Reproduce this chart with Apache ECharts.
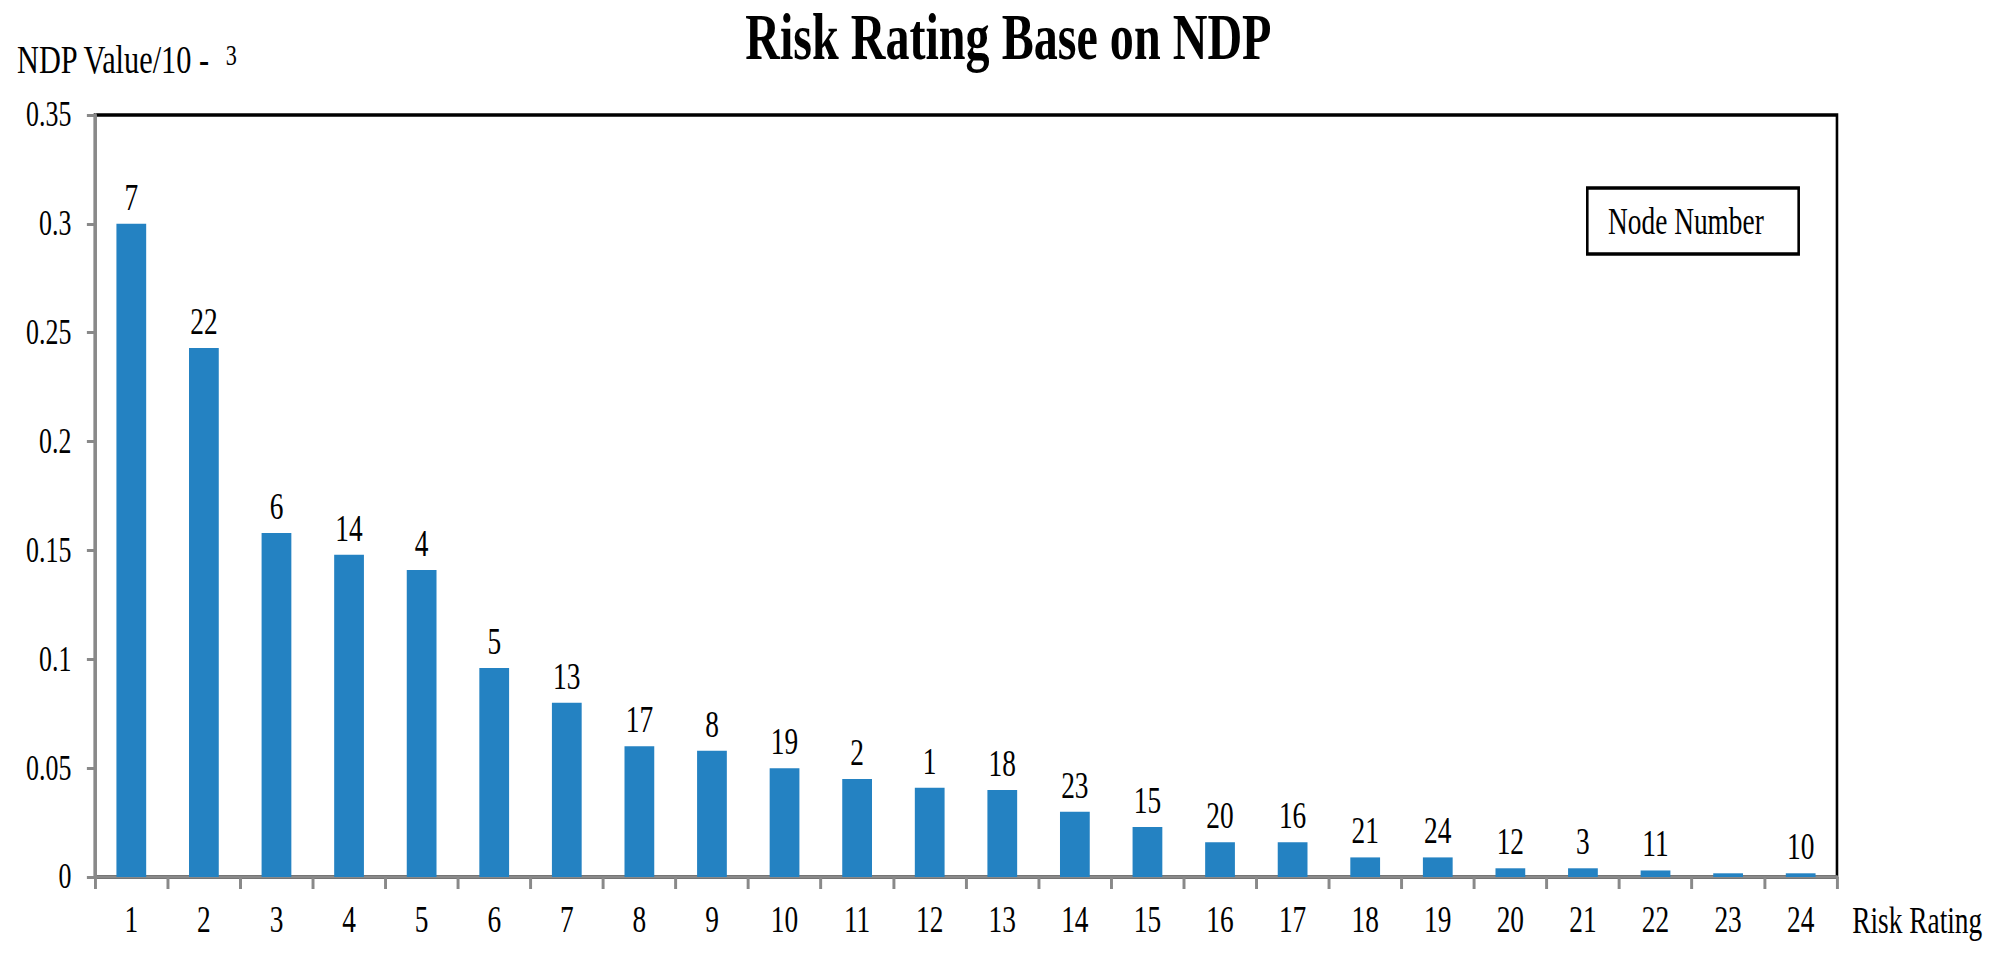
<!DOCTYPE html>
<html>
<head>
<meta charset="utf-8">
<script src="https://cdn.jsdelivr.net/npm/echarts@6/dist/echarts.min.js"></script>
<style>
html,body{margin:0;padding:0;background:#fff;overflow:hidden;width:1998px;height:953px;}
#wrap{position:absolute;left:0;top:0;width:2700px;height:953px;transform:scaleX(0.74);transform-origin:0 0;}
#chart{width:2700px;height:953px;}
</style>
</head>
<body>
<div id="wrap"><div id="chart"></div></div>
<script>
// Risk rating positions (x categories)
const riskRatings = ['1','2','3','4','5','6','7','8','9','10','11','12','13','14','15','16','17','18','19','20','21','22','23','24'];
// NDP values (x 10^-3)
const ndpValues = [0.300, 0.243, 0.158, 0.148, 0.141, 0.096, 0.080, 0.060, 0.058, 0.050, 0.045, 0.041, 0.040, 0.030, 0.023, 0.016, 0.016, 0.009, 0.009, 0.004, 0.004, 0.003, 0.0017, 0.0017];
// Node numbers shown above each bar (none shown for rating 23)
const nodeNumbers = ['7','22','6','14','4','5','13','17','8','19','2','1','18','23','15','20','16','21','24','12','3','11','','10'];
// Y axis ticks
const yMin = 0, yMax = 0.35, yStep = 0.05;

const FONT = "Liberation Serif, Times New Roman, serif";
const chart = echarts.init(document.getElementById('chart'), null, {renderer: 'svg', width: 2700, height: 953});

chart.setOption({
  backgroundColor: '#fff',
  animation: false,
  title: {
    text: 'Risk Rating Base on NDP',
    left: 1007,
    top: 4,
    padding: 0,
    textStyle: {fontFamily: FONT, fontWeight: 'bold', fontSize: 65, color: '#000'}
  },
  legend: {
    data: [{name: 'Node Number', icon: 'none'}],
    left: 2145,
    top: 188,
    itemWidth: 0,
    itemHeight: 14,
    padding: [15, 47, 14, 23],
    borderColor: '#000',
    borderWidth: 3.5,
    selectedMode: false,
    textStyle: {fontFamily: FONT, fontSize: 37, color: '#000'}
  },
  graphic: [
    {type: 'text', left: 23, top: 60 - 21, style: {text: 'NDP Value/10 - ', fontFamily: FONT, fontSize: 41, fill: '#000'}},
    {type: 'text', left: 305, top: 40, style: {text: '3', fontFamily: FONT, fontSize: 30, fill: '#000'}},
    {type: 'text', left: 2503, top: 920 - 18, style: {text: 'Risk Rating', fontFamily: FONT, fontSize: 37, fill: '#000'}}
  ],
  grid: {
    left: 128.4, right: 217.6, top: 115, bottom: 76,
    show: true, borderColor: '#000', borderWidth: 3.5, backgroundColor: 'transparent'
  },
  xAxis: {
    type: 'category',
    data: riskRatings,
    boundaryGap: true,
    axisLine: {show: true, lineStyle: {color: '#898989', width: 3.5}},
    axisTick: {show: true, length: 12, interval: 0, alignWithLabel: false, lineStyle: {color: '#898989', width: 4}},
    axisLabel: {interval: 0, margin: 24, fontFamily: FONT, fontSize: 37, color: '#000'},
    splitLine: {show: false}
  },
  yAxis: {
    type: 'value',
    min: yMin, max: yMax, interval: yStep,
    axisLine: {show: true, lineStyle: {color: '#898989', width: 4}},
    axisTick: {show: true, length: 11, lineStyle: {color: '#898989', width: 3}},
    axisLabel: {margin: 32, fontFamily: FONT, fontSize: 35, color: '#000'},
    splitLine: {show: false}
  },
  series: [{
    name: 'Node Number',
    type: 'bar',
    data: ndpValues,
    barWidth: '41%',
    itemStyle: {color: '#2482C2'},
    label: {
      show: true,
      position: 'top',
      distance: 8,
      fontFamily: FONT,
      fontSize: 37,
      color: '#000',
      formatter: p => nodeNumbers[p.dataIndex]
    }
  }]
});
</script>
</body>
</html>
